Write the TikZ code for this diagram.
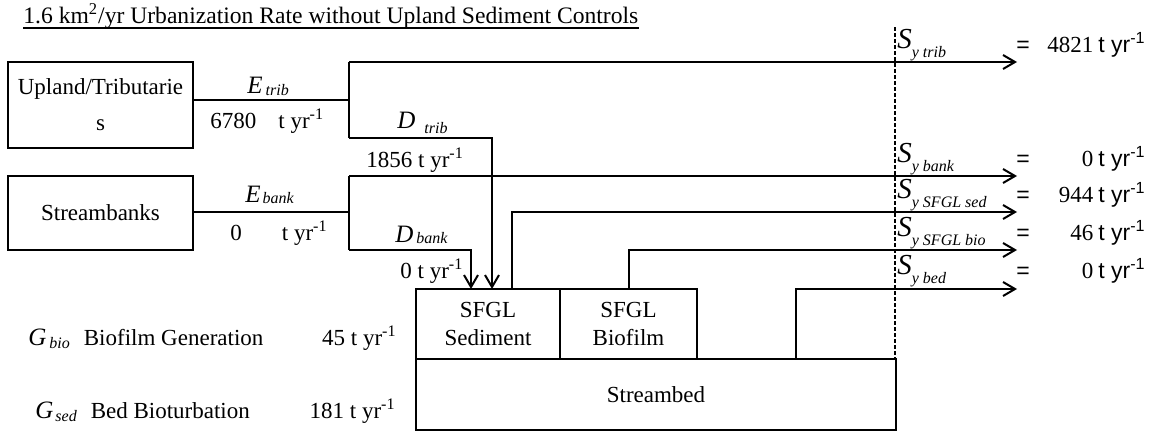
\documentclass[tikz,border=0pt]{standalone}
\usepackage{fontspec}
\setmainfont{Liberation Serif}
\newfontfamily\arialfont{Liberation Sans}
\usetikzlibrary{arrows.meta,positioning,calc}
\newcommand{\tyr}{t yr\textsuperscript{-1}}
\newcommand{\atyr}{{\arialfont t yr\textsuperscript{-1}}}
\newcommand{\symb}[5][12.5]{{\fontsize{#1}{#1}\selectfont\itshape #2}\hspace{#3}\raisebox{-#4}{\fontsize{8}{8}\selectfont\itshape #5}}

\begin{document}
\begin{tikzpicture}[x=0.5pt,y=-0.5pt, every node/.style={font=\fontsize{11.5}{14}\selectfont,inner sep=0pt}, b/.style={draw,line width=1pt,align=center}, lb/.style={anchor=base west}, rb/.style={anchor=base east}, ln/.style={line width=1pt}, ar/.style={ln,-{Straight Barb[length=6pt,width=7pt]}}]
\useasboundingbox (0,0) rectangle (1163,434);
\node[lb,font=\fontsize{11.8}{14}\selectfont] (ttl) at (23,23) {1.6 km\textsuperscript{2}/yr Urbanization Rate without Upland Sediment Controls};
\draw[line width=0.8pt] ([yshift=-2.5pt]ttl.base west) -- ([yshift=-2.5pt]ttl.base east);
\node[b,minimum width=92.5pt,minimum height=43pt] (up) at (100.5,105) {Upland/Tributarie\\[4pt]s};
\node[b,minimum width=92.5pt,minimum height=37pt] (bk) at (100.5,213) {Streambanks};
\node[b,minimum width=72pt,minimum height=35pt] (sed) at (488,324) {SFGL\\Sediment};
\node[b,minimum width=68.5pt,minimum height=35pt] (bio) at (628.5,324) {SFGL\\Biofilm};
\node[b,minimum width=240pt,minimum height=35.5pt] (bed) at (656,394.5) {Streambed};
\coordinate (j1) at (349,100); \coordinate (j1a) at (349,62); \coordinate (j1b) at (349,138);
\coordinate (j2) at (349,212); \coordinate (j2a) at (349,176); \coordinate (j2b) at (349,250);
\coordinate (d1) at (492,289); \coordinate (d2) at (471,289); \coordinate (s1) at (512,289); \coordinate (b1) at (796,359);
\coordinate (o1) at (1017,62); \coordinate (o2) at (1017,176); \coordinate (o3) at (1017,212); \coordinate (o4) at (1017,250); \coordinate (o5) at (1017,289);
\coordinate (bt) at (895,27);
\draw[ln] (j1 -| up.east) -- (j1); \draw[ln] (j1a) -- (j1b);
\draw[ar] (j1a) -- (o1); \draw[ar] (j1b) -| (d1);
\draw[ln] (j2 -| bk.east) -- (j2); \draw[ln] (j2a) -- (j2b);
\draw[ar] (j2a) -- (o2); \draw[ar] (j2b) -| (d2);
\draw[ar] (s1) |- (o3);
\draw[ar] (bio.north) |- (o4);
\draw[ar] (b1) |- (o5);
\draw[line width=0.7pt,dash pattern=on 2pt off 1pt] (bt) -- (bt |- bed.north);
\node[lb] (et) at (247,93) {\symb{E}{1.5pt}{1pt}{trib}};
\node[lb] (etv) at (210,128) {6780\hspace{11pt}\tyr};
\node[lb] (dt) at (397,128) {\symb{D}{4.5pt}{2.5pt}{trib}};
\node[lb] (dtv) at (366,167) {1856 \tyr};
\node[lb] (eb) at (245,202) {\symb{E}{1pt}{0.5pt}{bank}};
\node[lb] (ebv) at (230,240) {0\hspace{20pt}\tyr};
\node[lb] (db) at (395,242) {\symb{D}{1.5pt}{0.5pt}{bank}};
\node[lb] (dbv) at (400,278) {0 \tyr};
\node[lb] (syt) at (897,48) {\symb[14.5]{S}{0pt}{4.5pt}{y trib}};
\node[lb] (syb) at (897,162) {\symb[14.5]{S}{0pt}{4.5pt}{y bank}};
\node[lb] (sys) at (897,198) {\symb[14.5]{S}{0pt}{4.5pt}{y SFGL sed}};
\node[lb] (syo) at (897,236) {\symb[14.5]{S}{0pt}{4.5pt}{y SFGL bio}};
\node[lb] (sye) at (897,274) {\symb[14.5]{S}{0pt}{4.5pt}{y bed}};
\node[anchor=base] (q1) at (1023,52) {\arialfont =};
\node[anchor=base] (q2) at (1023,166) {\arialfont =};
\node[anchor=base] (q3) at (1023,202) {\arialfont =};
\node[anchor=base] (q4) at (1023,240) {\arialfont =};
\node[anchor=base] (q5) at (1023,278) {\arialfont =};
\node[rb] (v1) at (1146,52) {4821\hspace{2.5pt}\atyr};
\node[rb] (v2) at (1146,166) {0\hspace{2.5pt}\atyr};
\node[rb] (v3) at (1146,202) {944\hspace{2.5pt}\atyr};
\node[rb] (v4) at (1146,240) {46\hspace{2.5pt}\atyr};
\node[rb] (v5) at (1146,278) {0\hspace{2.5pt}\atyr};
\node[lb] (gb) at (28,345) {\symb{G}{1.5pt}{1.75pt}{bio}\hspace{7pt}Biofilm Generation};
\node[rb] (gbv) at (397,345) {45 \tyr};
\node[lb] (gs) at (35,418) {\symb{G}{1pt}{1.75pt}{sed}\hspace{7pt}Bed Bioturbation};
\node[rb] (gsv) at (396,418) {181 \tyr};
\end{tikzpicture}
\end{document}
